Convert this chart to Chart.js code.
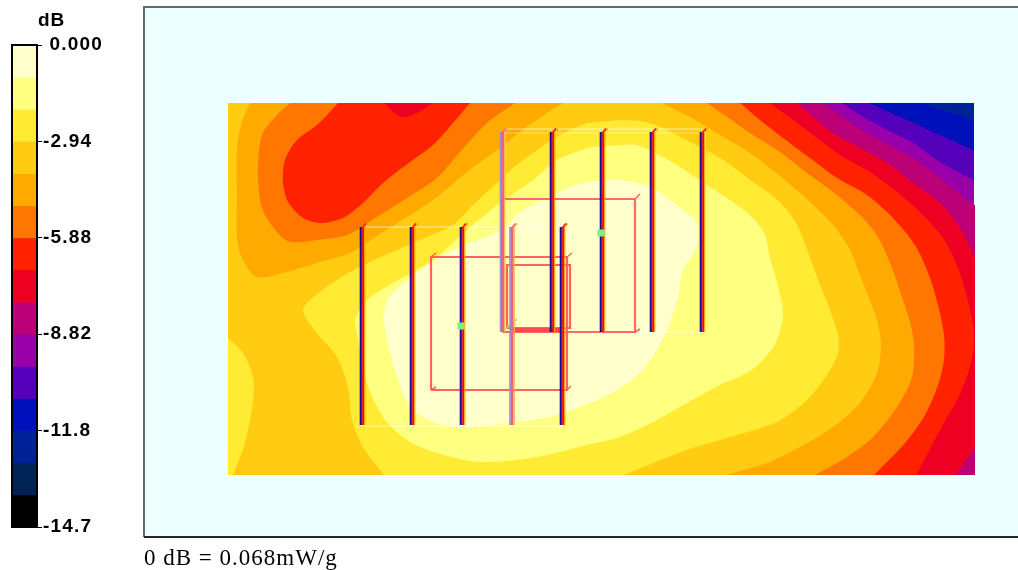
<!DOCTYPE html>
<html><head><meta charset="utf-8">
<script src="https://cdn.jsdelivr.net/npm/chart.js@4"></script>
<style>
html,body{margin:0;padding:0;background:#fff;width:1018px;height:570px;overflow:hidden}
canvas{position:absolute;top:0}
#bar{left:0}#map{left:140px}
.t{position:absolute;color:#000;white-space:nowrap}
</style></head><body>
<canvas id="bar" width="140" height="570"></canvas>
<canvas id="map" width="878" height="570"></canvas>
<div class="t" style="left:38px;top:9px;font:bold 19px 'Liberation Sans';letter-spacing:1px">dB</div>
<div class="t" style="left:144px;top:545px;font:23px 'Liberation Serif';letter-spacing:1px">0 dB = 0.068mW/g</div>
<script>
// Colour scale
const bandColors=['#FFFFCC','#FFFF80','#FFEB33','#FFCC11','#FFAA00','#FF7700','#FF2200','#EE0022','#BB0077','#9900AA','#5500BB','#0011BB','#002299','#002255','#000000'];
const bandStep=[-0.98];
const tickValues=[0,-2.94,-5.88,-8.82,-11.76,-14.7];
const tickLabels=[' 0.000','-2.94','-5.88','-8.82','-11.8','-14.7'];

// Contour regions: each holds everything at or above one dB level
const base=[[220,95],[985,95],[985,485],[220,485]];
const level12=[[220,95],[905,95],[922,103],[973,120],[985,125],[985,485],[220,485]];
const level11=[[220,95],[860,95],[870,103],[907,120],[940,135],[973,150],[985,155],[985,485],[220,485]];
const level10=[[220,95],[835,95],[842,103],[860,115],[887,130],[913,143],[940,162],[973,180],[985,188],[985,485],[220,485]];
const level9=[[220,95],[815,95],[823,103],[837,113],[857,127],[883,142],[907,155],[937,175],[957,192],[974,205],[985,214],[985,485],[220,485]];
const level8=[[220,95],[788,95],[797,103],[813,117],[833,133],[860,148],[887,163],[913,183],[940,203],[960,228],[975,257],[985,280],[985,440],[975,448],[957,474],[950,485],[220,485]];
const level7=[[436,95],[760,95],[770,103],[793,120],[817,138],[840,155],[870,172],[897,192],[920,212],[943,238],[958,268],[967,297],[973,325],[974,345],[969,370],[958,398],[940,430],[917,474],[912,485],[220,485],[220,95],[378,95],[385,103],[393,112],[403,117],[417,113],[433,103]];
const level6=[[475,95],[730,95],[740,103],[760,120],[783,138],[810,158],[837,178],[867,195],[893,218],[915,245],[929,275],[938,305],[944,335],[944,360],[938,385],[925,415],[905,443],[875,474],[865,485],[220,485],[220,95],[343,95],[338,103],[317,125],[297,140],[285,160],[283,182],[288,202],[303,218],[320,223],[343,218],[363,203],[383,183],[410,162],[433,145],[453,123],[470,103]];
const level5=[[522,95],[695,95],[707,103],[727,117],[753,135],[780,152],[807,173],[833,192],[860,215],[878,237],[892,268],[902,297],[910,322],[914,345],[912,377],[897,407],[873,437],[847,457],[817,474],[800,485],[220,485],[220,95],[295,95],[290,103],[277,115],[262,135],[258,172],[262,208],[277,232],[290,242],[317,240],[347,235],[377,217],[407,198],[437,178],[460,152],[487,123],[515,103]];
const level4=[[572,95],[650,95],[662,103],[690,117],[720,135],[753,155],[787,182],[810,202],[833,225],[849,248],[860,275],[869,298],[877,320],[881,345],[877,373],[860,403],[833,427],[800,447],[767,463],[730,474],[700,485],[220,485],[220,95],[254,95],[250,103],[242,122],[237,148],[237,195],[237,238],[242,258],[257,277],[287,272],[320,262],[350,253],[383,232],[433,200],[467,172],[497,150],[520,132],[547,113],[563,103]];
const level3=[[620,120],[640,121],[663,128],[690,142],[720,158],[753,182],[780,202],[797,225],[809,255],[820,285],[830,310],[838,335],[838,352],[829,372],[807,400],[777,422],[737,435],[687,450],[627,474],[605,485],[389,485],[383,474],[363,447],[352,420],[348,387],[337,357],[317,333],[303,310],[320,292],[350,272],[370,262],[420,240],[453,225],[473,205],[497,183],[513,168],[537,150],[560,135],[587,123]];
const level3Island=[[220,332],[228,338],[243,353],[253,377],[253,400],[245,443],[233,475],[228,490],[220,490]];
const level2=[[620,145],[637,145],[653,152],[677,165],[707,185],[733,202],[753,218],[765,235],[770,258],[777,282],[783,313],[777,340],[763,360],[747,373],[720,385],[687,403],[653,422],[620,437],[587,445],[537,457],[480,462],[437,453],[407,440],[383,417],[367,383],[357,333],[355,320],[367,300],[393,283],[433,260],[467,230],[500,203],[533,180],[557,160],[590,147]];
const level1=[[383,320],[387,300],[407,280],[430,263],[460,247],[500,230],[523,210],[557,193],[583,183],[617,180],[650,187],[683,210],[697,223],[697,247],[683,270],[678,297],[670,323],[657,350],[640,373],[617,390],[590,403],[550,417],[510,423],[467,427],[433,422],[410,407],[397,377],[390,353]];
const surround=[[144,7],[1018,7],[1018,537],[144,537],[144,7],[228,103],[228,475],[975,475],[975,205],[974,205],[974,103],[228,103],[144,7]];

// Probe columns and scan outlines
const leftProbeX=[360.5,410.5,460.5,510,560.5];
const rightProbeX=[500.5,550.5,600.5,650.5,700.5];
const leftProbeSpan=[227,425];
const rightProbeSpan=[132,332];
const scanA=[[431,390],[431,257],[567,257],[567,390],[431,390]];
const scanB=[[502,332],[502,199],[635,199],[635,332],[502,332]];
const scanC=[[507,328],[507,265],[570,265],[570,328],[507,328]];
const scanD=[[513,330],[560,330]];
const cornerTicks=[[[431,257],[436,253]],[[431,390],[436,387]],[[567,257],[572,253]],[[567,390],[571,386]],[[635,199],[640,194]],[[635,332],[640,329]]];
const cubeA=[[362,426],[362,227],[562,227],[562,426],[362,426]];
const cubeB=[[505,332],[505,129],[705,129],[705,332],[505,332]];
const cubeBInner=[[500,133],[705,133]];
const axisMark=[[502,332],[517,319]];
const peaks=[[461,326],[601,233]];

const P=a=>a.map(p=>({x:p[0],y:p[1]}));
const poly=(a,c,t)=>({data:P(a),showLine:true,fill:'shape',backgroundColor:c,borderColor:c,borderWidth:0,pointRadius:0,tension:t});
const ln=(a,c,w)=>({data:P(a),showLine:true,fill:false,borderColor:c,borderWidth:w,pointRadius:0,tension:0});

const ds=[];
ds.push(poly(base,bandColors[12],0));
[[level12,11],[level11,10],[level10,9],[level9,8],[level8,7],[level7,6],[level6,5],[level5,4],[level4,3],[level3,2]].forEach(([a,i])=>ds.push(poly(a,bandColors[i],0.3)));
ds.push(poly(level3Island,bandColors[2],0.3));
ds.push(poly(level2,bandColors[1],0.3));
ds.push(poly(level1,bandColors[0],0.3));
ds.push(poly(surround,'#EEFFFF',0));

ds.push(ln(cubeA,'rgba(255,255,255,.65)',1));
ds.push(ln(cubeB,'rgba(255,255,255,.65)',1));
ds.push(ln(cubeBInner,'rgba(255,255,255,.4)',1));
ds.push(ln(scanA,'#FF6060',2.2));
ds.push(ln(scanB,'#FF6868',2.2));
ds.push(ln(scanC,'#FF6060',2.2));
ds.push(ln(scanD,'#FF4848',4));
cornerTicks.forEach(t=>ds.push(ln(t,'#FF6060',1.5)));
ds.push(ln(axisMark,'#80F080',1.5));

const stripes=[[0,'#1A0A9A',1.6],[1.3,'#6A00A8',1.4],[2.6,'#F01010',1.8],[4.2,'#FF9A00',1.2]];
const paleStripes=[[0,'#9A90D8',1.6],[1.3,'#B070C8',1.4],[2.6,'#F06080',1.8],[4.2,'#FFB040',1.2]];
function column(x,span,set){
  set.forEach(([o,c,w])=>ds.push(ln([[x+o,span[1]],[x+o,span[0]],[x+o+3,span[0]-3.5]].slice(0,o<2.5?2:3),c,w)));
}
leftProbeX.forEach((x,i)=>column(x,leftProbeSpan,i===3?paleStripes:stripes));
rightProbeX.forEach((x,i)=>column(x,rightProbeSpan,i===0?paleStripes:stripes));

ds.push({data:P(peaks),showLine:false,pointStyle:'rect',pointRadius:5,pointBackgroundColor:'#80F080',pointBorderWidth:0});
ds.forEach((d,i)=>{d.order=ds.length-i;});

new Chart(document.getElementById('map'),{
  type:'scatter',
  data:{datasets:ds},
  options:{responsive:false,animation:false,events:[],
    layout:{autoPadding:false,padding:{left:4,top:7,right:0,bottom:33}},
    plugins:{legend:{display:false},tooltip:{enabled:false}},
    scales:{
      x:{type:'linear',display:false,min:144,max:1018},
      y:{type:'linear',display:false,min:7,max:537,reverse:true}
    }},
  plugins:[{id:'frame',
    beforeDatasetsDraw(c){const a=c.chartArea,x=c.ctx;x.save();x.fillStyle='#EEFFFF';x.fillRect(a.left,a.top,a.right-a.left,a.bottom-a.top);x.restore();},
    afterDraw(c){const a=c.chartArea,x=c.ctx;x.save();x.lineWidth=2;x.strokeStyle='#5E6E6E';x.beginPath();x.moveTo(a.left,a.bottom);x.lineTo(a.left,a.top);x.lineTo(a.right,a.top);x.stroke();x.strokeStyle='#202828';x.beginPath();x.moveTo(a.left,a.bottom);x.lineTo(a.right,a.bottom);x.stroke();x.restore();}
  }]
});

new Chart(document.getElementById('bar'),{
  type:'bar',
  data:{labels:['dB'],datasets:bandColors.map((c,i)=>({data:[bandStep[0]],backgroundColor:c,borderWidth:0,barPercentage:1,categoryPercentage:1,order:i}))},
  options:{responsive:false,animation:false,events:[],
    layout:{padding:{left:12,top:45,right:0,bottom:43}},
    plugins:{legend:{display:false},tooltip:{enabled:false}},
    scales:{
      x:{display:false,stacked:true},
      y:{stacked:true,position:'right',min:-14.7,max:0,
        afterFit(s){s.width=103;},
        afterBuildTicks(s){s.ticks=tickValues.map(v=>({value:v}));},
        grid:{color:'#000',lineWidth:1,tickLength:5,drawOnChartArea:true},
        border:{color:'#000',width:1},
        ticks:{padding:1,color:'#000',font:{family:'Liberation Sans',weight:'bold',size:19},
          autoSkip:false,maxRotation:0,
          callback(v){const i=tickValues.indexOf(v);return i<0?'':tickLabels[i];}}
      }
    }},
  plugins:[{id:'outline',
    beforeDraw(c){c.ctx.letterSpacing='1.2px';},
    afterDraw(c){const a=c.chartArea,x=c.ctx;x.save();x.strokeStyle='#000';x.lineWidth=2;x.strokeRect(a.left,a.top,a.right-a.left,a.bottom-a.top);x.restore();}}]
});
</script></body></html>
